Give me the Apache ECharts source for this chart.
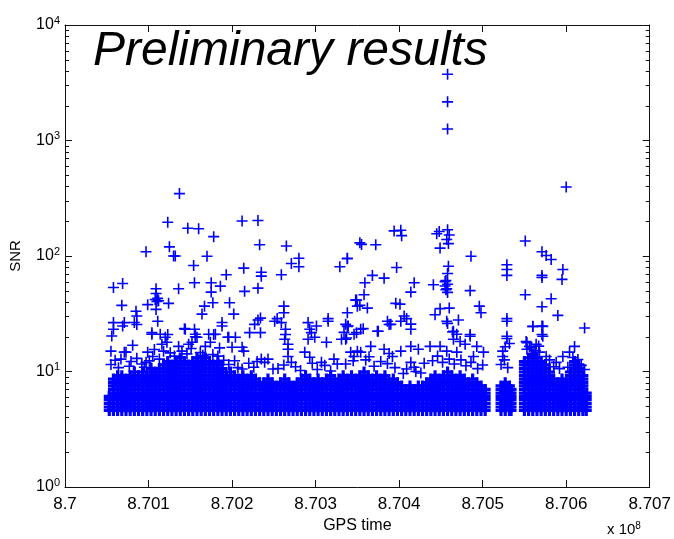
<!DOCTYPE html>
<html><head><meta charset="utf-8">
<script src="https://cdn.jsdelivr.net/npm/echarts@6/dist/echarts.min.js"></script>
<style>html,body{margin:0;padding:0;background:#fff}#c{width:674px;height:539px}</style>
</head><body><div id="c"></div>
<script>
// ---- data (GPS time in units of 1e8 s, SNR) ----
const xTickValues = [8.7, 8.701, 8.702, 8.703, 8.704, 8.705, 8.706, 8.707];
const yDecades = [1, 10, 100, 1000, 10000];
const peakEvents = [[8.70458, 3750], [8.70458, 2160], [8.70458, 1256]];
const loudEvents = [
  [8.70600, 396], [8.70137, 347], [8.70123, 196], [8.70147, 174], [8.70160, 172], [8.70178, 147],
  [8.70212, 201], [8.70231, 203], [8.70097, 109], [8.70125, 120], [8.70130, 100], [8.70132, 100],
  [8.70170, 99.6], [8.70154, 82.8], [8.70214, 78.5], [8.70233, 125], [8.70265, 122], [8.70271, 86.1],
  [8.70280, 95.7], [8.70280, 80.7], [8.70329, 80.7], [8.70338, 95.7], [8.70353, 130], [8.70235, 72.4],
  [8.70235, 66.9], [8.70259, 68.8], [8.70193, 68.8], [8.70394, 165], [8.70402, 167], [8.70403, 150],
  [8.70448, 163], [8.70445, 156], [8.70458, 169], [8.70457, 139], [8.70459, 128], [8.70449, 117],
  [8.70460, 152], [8.70355, 126], [8.70372, 125], [8.70551, 135], [8.70571, 109], [8.70576, 101],
  [8.70582, 93.3], [8.70338, 94.6], [8.70486, 99.6], [8.70397, 79.6], [8.70459, 81.6], [8.70458, 70.6],
  [8.70529, 83.9], [8.70529, 76.4], [8.70529, 67.9], [8.70571, 67.9], [8.70571, 65.2], [8.70596, 76.4],
  [8.70595, 62.7], [8.70368, 67.9], [8.70382, 64.3]
];
const midEvents = [
  [8.70058, 53.4], [8.70069, 57.8], [8.70109, 52.1], [8.70109, 47.4], [8.70108, 42], [8.70111, 43],
  [8.70110, 40.5], [8.70112, 41], [8.70136, 52.1], [8.70155, 58.6], [8.70175, 58.6], [8.70175, 48.7],
  [8.70186, 54.8], [8.70215, 49.4], [8.70231, 52.7], [8.70068, 37.4], [8.70085, 33.2], [8.70086, 30.2],
  [8.70099, 37.9], [8.70124, 38.9], [8.70109, 34.5], [8.70167, 36.8], [8.70164, 31.4], [8.70177, 39.4],
  [8.70197, 39.4], [8.70202, 31.4], [8.70262, 36.8], [8.70262, 32.3], [8.70348, 41.5], [8.70353, 37.4],
  [8.70359, 58.6], [8.70418, 58.6], [8.70414, 48.7], [8.70441, 56.4], [8.70456, 61.4], [8.70455, 60],
  [8.70458, 57], [8.70455, 55], [8.70457, 52], [8.70456, 51], [8.70458, 48.4], [8.70485, 50.1],
  [8.70551, 46.2], [8.70358, 46.2], [8.70349, 41.5], [8.70350, 36.8], [8.70362, 35.4], [8.70396, 38.9],
  [8.70401, 38.3], [8.70582, 42.7], [8.70571, 36.4], [8.70590, 30.6], [8.70622, 23.8], [8.70449, 35.0],
  [8.70443, 31.0], [8.70460, 35.4], [8.70496, 36.8], [8.70498, 32.3], [8.70529, 28.7]
];
const lowEvents = [
  [8.70058, 26.5], [8.70058, 23.2], [8.70056, 20.3], [8.70071, 26.5], [8.70069, 24.8], [8.70086, 25.5],
  [8.70111, 27.2], [8.70104, 21.7], [8.70123, 20.9], [8.70143, 23.5], [8.70155, 23.2], [8.70156, 20.0],
  [8.70188, 24.8], [8.70178, 20.9], [8.70195, 19.8], [8.70221, 21.7], [8.70234, 21.7], [8.70231, 27.9],
  [8.70234, 29.0], [8.70254, 28.7], [8.70259, 26.5], [8.70264, 23.2], [8.70264, 20.9], [8.70291, 26.5],
  [8.70295, 21.7], [8.70301, 24.8], [8.70315, 28.7], [8.70338, 32.3], [8.70339, 24.8], [8.70337, 19.5],
  [8.70349, 21.7], [8.70406, 30.2], [8.70409, 28.7], [8.70414, 25.7], [8.70386, 27.2], [8.70388, 25.5],
  [8.70458, 26.1], [8.70471, 27.9], [8.70464, 22.0], [8.70357, 23.5], [8.70375, 22.3], [8.70571, 24.8],
  [8.70560, 24.5], [8.70571, 20.9], [8.70485, 20.9], [8.70529, 19.3], [8.70553, 17.8],
  [8.70083, 26.6], [8.70104, 21.0], [8.70114, 21.0], [8.70120, 19.8], [8.70122, 17.9], [8.70116, 17.2],
  [8.70118, 15.0], [8.70081, 16.9], [8.70055, 15.0], [8.70071, 14.7], [8.70073, 14.7], [8.70099, 14.7],
  [8.70105, 13.5], [8.70136, 16.5], [8.70140, 15.0], [8.70144, 23.2], [8.70156, 21.0], [8.70158, 19.8],
  [8.70152, 17.9], [8.70148, 17.2], [8.70172, 21.0], [8.70180, 21.0], [8.70174, 17.9], [8.70168, 16.5],
  [8.70188, 26.6], [8.70196, 19.8], [8.70204, 19.8], [8.70200, 16.2], [8.70212, 16.2], [8.70214, 15.0],
  [8.70227, 25.6], [8.70251, 27.2], [8.70263, 19.0], [8.70267, 17.2], [8.70267, 15.6], [8.70267, 13.5],
  [8.70271, 12.0], [8.70293, 23.2], [8.70299, 19.8], [8.70291, 19.0], [8.70315, 27.2], [8.70313, 17.9],
  [8.70287, 14.7], [8.70293, 13.3], [8.70336, 25.6], [8.70346, 21.0], [8.70336, 19.0], [8.70322, 12.8],
  [8.70307, 12.0], [8.70350, 15.0], [8.70346, 13.5], [8.70342, 14.7], [8.70235, 12.8], [8.70239, 12.0],
  [8.70243, 12.8], [8.70249, 10.5], [8.70212, 10.5], [8.70067, 12.8], [8.70077, 11.1], [8.70097, 12.0],
  [8.70113, 12.8], [8.70338, 24.6], [8.70334, 21.8], [8.70354, 23.2], [8.70374, 22.3], [8.70390, 25.6],
  [8.70402, 27.2], [8.70414, 23.2], [8.70457, 27.2], [8.70465, 22.3], [8.70469, 21.0], [8.70473, 18.2],
  [8.70465, 19.0], [8.70485, 20.2], [8.70479, 17.2], [8.70493, 16.5], [8.70529, 27.2], [8.70529, 20.2],
  [8.70524, 15.0], [8.70524, 13.5], [8.70560, 24.6], [8.70572, 24.6], [8.70572, 20.2], [8.70552, 18.2],
  [8.70556, 16.5], [8.70564, 17.2], [8.70610, 16.5], [8.70604, 14.7], [8.70331, 19.0], [8.70354, 14.7],
  [8.70366, 16.5], [8.70382, 15.6], [8.70392, 13.5], [8.70402, 15.0], [8.70414, 16.5], [8.70423, 15.6],
  [8.70414, 12.0], [8.70418, 10.9], [8.70437, 16.5], [8.70449, 16.5], [8.70457, 15.0], [8.70469, 14.7],
  [8.70489, 13.5], [8.70501, 14.7], [8.70568, 14.7], [8.70576, 13.5], [8.70588, 12.0], [8.70596, 13.5],
  [8.70370, 11.1]
];
const nearBandEvents = [
  [8.70055, 11.5], [8.70060, 12.5], [8.70064, 10.8], [8.70079, 12.2], [8.70086, 13.0], [8.70092, 11.6],
  [8.70101, 12.4], [8.70107, 15.5], [8.70095, 10.9], [8.70126, 14.5], [8.70131, 13.6], [8.70146, 14.2],
  [8.70151, 15.8], [8.70162, 14.6], [8.70165, 13.8], [8.70177, 14.0], [8.70183, 13.6], [8.70190, 12.5],
  [8.70185, 16.0], [8.70196, 11.5], [8.70203, 12.4], [8.70207, 10.8], [8.70220, 11.8], [8.70226, 10.9],
  [8.70230, 12.2], [8.70255, 10.6], [8.70262, 11.4], [8.70276, 11.0], [8.70282, 10.2], [8.70296, 11.8],
  [8.70302, 10.4], [8.70311, 11.3], [8.70318, 10.1], [8.70326, 11.6], [8.70336, 11.6], [8.70345, 12.4],
  [8.70360, 12.6], [8.70364, 13.4], [8.70378, 12.2], [8.70386, 11.7], [8.70395, 10.8], [8.70388, 14.3],
  [8.70405, 9.6], [8.70409, 10.5], [8.70420, 10.0], [8.70426, 9.7], [8.70430, 11.8], [8.70440, 12.4],
  [8.70446, 13.6], [8.70452, 12.0], [8.70460, 12.8], [8.70466, 11.6], [8.70474, 12.6], [8.70480, 11.2],
  [8.70486, 12.0], [8.70494, 10.6], [8.70500, 11.4], [8.70522, 11.5], [8.70526, 12.6], [8.70530, 10.8],
  [8.70527, 16.4], [8.70532, 17.5], [8.70553, 15.6], [8.70558, 16.0], [8.70563, 15.2], [8.70567, 16.6],
  [8.70580, 12.6], [8.70585, 11.0], [8.70592, 10.6], [8.70602, 10.9], [8.70608, 13.2], [8.70614, 12.7],
  [8.70618, 11.3], [8.70622, 10.4]
];
// dense band of low-SNR triggers: column positions and the top SNR reached in each column
const bandX = [
  8.70053, 8.70058, 8.70063, 8.70068, 8.70073, 8.70078, 8.70083, 8.70088, 8.70093, 8.70098,
  8.70103, 8.70108, 8.70113, 8.70118, 8.70123, 8.70128, 8.70133, 8.70138, 8.70143, 8.70148,
  8.70153, 8.70158, 8.70163, 8.70168, 8.70173, 8.70178, 8.70183, 8.70188, 8.70193, 8.70198,
  8.70203, 8.70208, 8.70213, 8.70218, 8.70223, 8.70228, 8.70233, 8.70238, 8.70243, 8.70248,
  8.70253, 8.70258, 8.70263, 8.70268, 8.70273, 8.70278, 8.70283, 8.70288, 8.70293, 8.70298,
  8.70303, 8.70308, 8.70313, 8.70318, 8.70323, 8.70328, 8.70333, 8.70338, 8.70343, 8.70348,
  8.70353, 8.70358, 8.70363, 8.70368, 8.70373, 8.70378, 8.70383, 8.70388, 8.70393, 8.70398,
  8.70403, 8.70408, 8.70413, 8.70418, 8.70423, 8.70428, 8.70433, 8.70438, 8.70443, 8.70448,
  8.70453, 8.70458, 8.70463, 8.70468, 8.70473, 8.70478, 8.70483, 8.70488, 8.70493, 8.70498,
  8.70503,
  8.70522, 8.70527, 8.70532, 8.70534,
  8.70550, 8.70555, 8.70560, 8.70565, 8.70570, 8.70575, 8.70580, 8.70585, 8.70590, 8.70595,
  8.70600, 8.70605, 8.70610, 8.70615, 8.70620, 8.70624
];
const bandTop = [
  6.4, 8.9, 9.4, 9.4, 8.9, 9.4, 10, 9.4, 10, 9.4,
  10.6, 9.9, 10.6, 11.4, 12.2, 11.4, 12.2, 13.1, 12.2, 11.4,
  12.2, 13.1, 12.2, 13.1, 12.2, 11.4, 12.2, 10.6, 9.2, 9.9,
  9.2, 8.6, 9.2, 8.6, 9.2, 8.6, 8.0, 8.0, 8.6, 8.0,
  7.5, 8.0, 8.6, 8.0, 7.5, 8.0, 8.6, 9.2, 8.6, 8.0,
  8.6, 8.0, 8.6, 9.2, 8.0, 8.6, 9.2, 8.6, 9.2, 8.6,
  9.2, 9.9, 9.2, 8.6, 9.2, 8.6, 9.2, 8.0, 8.6, 8.0,
  7.5, 7.0, 7.5, 7.0, 7.5, 7.5, 8.0, 8.6, 9.2, 8.6,
  9.2, 9.9, 9.2, 8.6, 9.2, 8.6, 8.0, 8.6, 8.0, 7.5,
  7.0,
  7.5, 8.0, 7.5, 7.0,
  12.2, 13.1, 14.0, 13.1, 12.2, 11.4, 9.9, 8.6, 8.0, 8.6,
  8.0, 9.9, 12.2, 11.4, 9.2, 6.5
];
const bandLevels = [4.6, 4.93, 5.3, 5.7, 6.1, 6.5, 7.0, 7.5, 8.0, 8.6, 9.2, 9.9, 10.6, 11.4, 12.2, 13.1, 14.0];
const minorMantissas = [2, 3, 4, 5, 6, 7, 8, 9];

// ---- build ----
const bandPoints = [];
bandX.forEach((x, i) => {
  bandLevels.forEach(l => { if (l <= bandTop[i] + 1e-9) bandPoints.push([x, l]); });
});
const events = peakEvents.concat(loudEvents, midEvents, lowEvents, nearBandEvents);

const BLUE = '#0000ff';
const plusThin = 'path://M4.7,0h1.6v4.7h4.7v1.6h-4.7v4.7h-1.6v-4.7h-4.7v-1.6h4.7z';
const plusBand = 'path://M3.9,0h3.2v3.9h3.9v3.2h-3.9v3.9h-3.2v-3.9h-3.9v-3.2h3.9z';
const FONT = '"Liberation Sans", Arial, Helvetica, sans-serif';

const chart = echarts.init(document.getElementById('c'), null, {renderer: 'canvas'});
const axisLineStyle = {color: '#111', width: 1};
const xBase = {
  type: 'value', min: xTickValues[0], max: xTickValues[xTickValues.length - 1], interval: 0.001,
  splitLine: {show: false},
  axisLine: {show: true, onZero: false, lineStyle: axisLineStyle},
  axisTick: {show: true, inside: true, length: 7, lineStyle: axisLineStyle}
};
const yBase = {
  type: 'log', logBase: 10, min: yDecades[0], max: yDecades[yDecades.length - 1],
  splitLine: {show: false},
  axisLine: {show: true, onZero: false, lineStyle: axisLineStyle},
  axisTick: {show: true, inside: true, length: 7, lineStyle: axisLineStyle}
};
chart.setOption({
  animation: false,
  backgroundColor: '#fff',
  grid: {left: 62, right: 23, top: 25, bottom: 51, containLabel: false},
  xAxis: [
    Object.assign({}, xBase, {
      position: 'bottom',
      name: 'GPS time', nameLocation: 'middle', nameGap: 31,
      nameTextStyle: {fontFamily: FONT, fontSize: 16, color: '#000'},
      axisLabel: {show: true, margin: 9, fontFamily: FONT, fontSize: 17, color: '#000',
        formatter: v => String(+(+v).toFixed(3))}
    }),
    Object.assign({}, xBase, {position: 'top', axisLabel: {show: false}})
  ],
  yAxis: [
    Object.assign({}, yBase, {
      position: 'left',
      name: 'SNR', nameLocation: 'middle', nameGap: 42, nameRotate: 90,
      nameTextStyle: {fontFamily: FONT, fontSize: 15, color: '#000'},
      axisLabel: {show: true, margin: 5, fontFamily: FONT, color: '#000',
        formatter: v => '{b|10}{s|' + Math.round(Math.log10(v)) + '}',
        rich: {
          b: {fontFamily: FONT, fontSize: 16, color: '#000'},
          s: {fontFamily: FONT, fontSize: 11, color: '#000', padding: [0, 0, 9, 0]}
        }}
    }),
    Object.assign({}, yBase, {position: 'right', axisLabel: {show: false}})
  ],
  series: [
    {type: 'scatter', xAxisIndex: 0, yAxisIndex: 0, data: bandPoints, symbol: plusBand, symbolSize: 11,
      itemStyle: {color: BLUE, opacity: 1}, emphasis: {disabled: true}, silent: true, large: false},
    {type: 'scatter', xAxisIndex: 0, yAxisIndex: 0, data: events, symbol: plusThin, symbolSize: 11,
      itemStyle: {color: BLUE, opacity: 1}, emphasis: {disabled: true}, silent: true, large: false}
  ]
});

// minor log ticks + annotations
const left = chart.convertToPixel({xAxisIndex: 0}, xTickValues[0]);
const right = chart.convertToPixel({xAxisIndex: 0}, xTickValues[xTickValues.length - 1]);
const gfx = [];
for (let d = 0; d < yDecades.length - 1; d++) {
  minorMantissas.forEach(m => {
    const py = Math.round(chart.convertToPixel({yAxisIndex: 0}, m * yDecades[d])) + 0.5;
    gfx.push({type: 'line', shape: {x1: left, y1: py, x2: left + 4, y2: py}, style: {stroke: '#111', lineWidth: 1}, silent: true});
    gfx.push({type: 'line', shape: {x1: right - 4, y1: py, x2: right, y2: py}, style: {stroke: '#111', lineWidth: 1}, silent: true});
  });
}
gfx.push({type: 'text', x: 93, y: 28, silent: true, z: 100,
  style: {text: 'Preliminary results', font: 'italic 48px ' + FONT, fill: '#000'}});
gfx.push({type: 'text', x: 607, y: 521, silent: true,
  style: {text: '{a|x 10}{s|8}', rich: {a: {fontFamily: FONT, fontSize: 15, color: '#000'},
    s: {fontFamily: FONT, fontSize: 10, color: '#000', padding: [0, 0, 8, 0]}}}});
chart.setOption({graphic: {elements: gfx}});
</script>
</body></html>
